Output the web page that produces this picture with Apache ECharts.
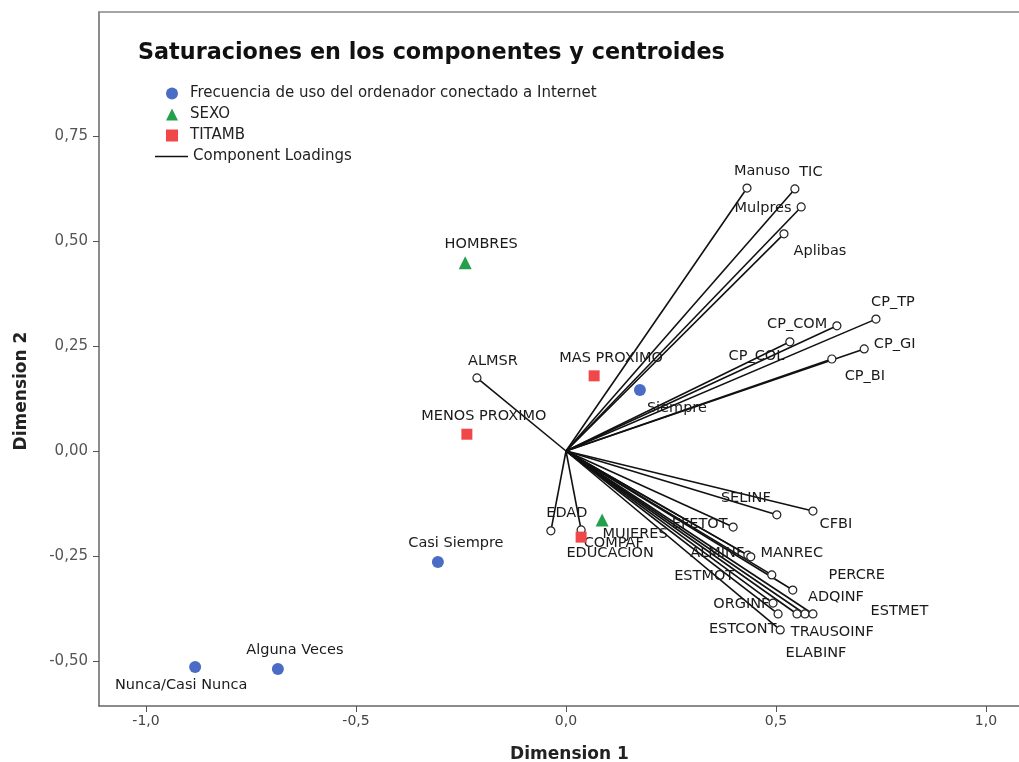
<!DOCTYPE html>
<html>
<head>
<meta charset="utf-8">
<script src="https://cdn.jsdelivr.net/npm/echarts@6/dist/echarts.min.js"></script>
<style>
  html, body { margin: 0; padding: 0; background: #fff; }
  #chart { width: 1019px; height: 762px; }
</style>
</head>
<body>
<div id="chart"></div>
<script>
// Saturaciones en los componentes (component loadings)
var loadingNames = ['Manuso', 'TIC', 'Mulpres', 'Aplibas', 'CP_TP', 'CP_COM', 'CP_COL', 'CP_GI', 'CP_BI',
  'ALMSR', 'SELINF', 'CFBI', 'EDAD', 'COMPAF', 'EFETOT', 'ALMINF', 'MANREC', 'ESTMOT', 'PERCRE',
  'ORGINF', 'ADQINF', 'ELABINF', 'ESTMET', 'ESTCONT', 'TRAUSOINF'];
var loadingDim1 = [0.431, 0.545, 0.560, 0.519, 0.738, 0.645, 0.533, 0.710, 0.633,
  -0.212, 0.502, 0.588, -0.036, 0.036, 0.398, 0.433, 0.440, 0.490, 0.540,
  0.493, 0.569, 0.550, 0.588, 0.505, 0.510];
var loadingDim2 = [0.626, 0.624, 0.581, 0.517, 0.314, 0.298, 0.260, 0.243, 0.219,
  0.174, -0.152, -0.143, -0.190, -0.188, -0.181, -0.248, -0.252, -0.295, -0.331,
  -0.362, -0.388, -0.388, -0.388, -0.388, -0.426];

// centroides
var frecNames = ['Siempre', 'Casi Siempre', 'Alguna Veces', 'Nunca/Casi Nunca'];
var frecDim1 = [0.176, -0.305, -0.686, -0.883];
var frecDim2 = [0.145, -0.264, -0.519, -0.514];

var sexoNames = ['HOMBRES', 'MUJERES'];
var sexoDim1 = [-0.240, 0.086];
var sexoDim2 = [0.448, -0.164];

var titambNames = ['MAS PROXIMO', 'MENOS PROXIMO', 'EDUCACION'];
var titambDim1 = [0.067, -0.236, 0.036];
var titambDim2 = [0.179, 0.040, -0.205];

var xTicks = [-1.0, -0.5, 0.0, 0.5, 1.0];
var yTicks = [-0.50, -0.25, 0.00, 0.25, 0.50, 0.75];

// donde va cada etiqueta (posicion, desplazamiento)
var loadingLabelPos = [
  ['top', [15, 0]], ['top', [16, 0]], ['left', [0, 1]], ['bottom', [36, 0]], ['top', [17, 0]],
  ['left', [0, -2]], ['left', [4, 14]], ['right', [0, -5]], ['bottom', [33, 0]],
  ['top', [16, 0]], ['top', [-31, 0]], ['bottom', [23, -4]], ['top', [16, 0]], ['right', [-7, 13]],
  ['left', [4, -3]], ['left', [6, -2]], ['right', [0, -4]], ['left', [-28, 1]], ['right', [26, -15]],
  ['left', [6, 1]], ['top', [31, 0]], ['bottom', [19, 22]], ['right', [48, -3]], ['left', [8, 15]],
  ['right', [1, 2]]
];
var frecLabelPos = [['bottom', [37, 0]], ['top', [18, 0]], ['top', [17, 0]], ['bottom', [-14, 0]]];
var sexoLabelPos = [['top', [16, 0]], ['bottom', [33, -5]]];
var titambLabelPos = [['top', [17, 0]], ['top', [17, 0]], ['bottom', [29, -2]]];

var FONT = 'DejaVu Sans';
var X_MIN = -1.1119, X_MAX = 1.1286;

function points(names, d1, d2, pos) {
  return names.map(function (n, i) {
    return {
      name: n,
      value: [d1[i], d2[i]],
      label: { position: pos[i][0], offset: pos[i][1] }
    };
  });
}

function labelStyle() {
  return {
    show: true,
    formatter: '{b}',
    color: '#1a1a1a',
    fontFamily: FONT,
    fontSize: 14.5,
    distance: 5,
    textBorderWidth: 0
  };
}

var chart = echarts.init(document.getElementById('chart'));
var option = {
  animation: false,
  backgroundColor: '#fff',
  title: {
    text: 'Saturaciones en los componentes y centroides',
    left: 138,
    top: 42,
    padding: 0,
    textStyle: { fontFamily: FONT, fontWeight: 'bold', fontSize: 22.3, color: '#111' }
  },
  legend: [
    {
      orient: 'vertical',
      left: 166,
      top: 85,
      padding: 0,
      itemWidth: 12,
      itemHeight: 12,
      itemGap: 4,
      textStyle: { fontFamily: FONT, fontSize: 15, color: '#222', lineHeight: 17, padding: [0, 0, 0, 7] },
      data: [
        { name: 'Frecuencia de uso del ordenador conectado a Internet', icon: 'circle' },
        { name: 'SEXO', icon: 'triangle' },
        { name: 'TITAMB', icon: 'rect' }
      ]
    },
    {
      orient: 'vertical',
      left: 155,
      top: 148,
      padding: 0,
      itemWidth: 33,
      itemHeight: 1.5,
      itemStyle: { borderWidth: 0 },
      textStyle: { fontFamily: FONT, fontSize: 15, color: '#222', lineHeight: 17, padding: [0, 0, 0, 0] },
      data: [{ name: 'Component Loadings', icon: 'rect' }]
    }
  ],
  grid: {
    left: 99,
    right: -21,
    top: 12,
    bottom: 56,
    outerBoundsMode: 'none',
    containLabel: false,
    show: false
  },
  xAxis: [
    {
      type: 'value',
      min: X_MIN,
      max: X_MAX,
      name: 'Dimension 1',
      nameLocation: 'middle',
      nameGap: 40,
      nameTextStyle: { fontFamily: FONT, fontWeight: 'bold', fontSize: 17, color: '#222' },
      axisLine: { onZero: false, lineStyle: { color: '#666', width: 1.5 } },
      axisTick: { show: true, length: 6, lineStyle: { color: '#555' }, customValues: xTicks },
      axisLabel: {
        customValues: xTicks,
        fontFamily: FONT, fontSize: 14, color: '#444', margin: 8,
        formatter: function (v) { return v.toFixed(1).replace('.', ','); }
      },
      splitLine: { show: false }
    },
    {
      // borde superior del marco
      type: 'value',
      position: 'top',
      min: X_MIN,
      max: X_MAX,
      axisLine: { show: true, onZero: false, lineStyle: { color: '#888', width: 1.5 } },
      axisTick: { show: false },
      axisLabel: { show: false },
      splitLine: { show: false }
    }
  ],
  yAxis: {
    type: 'value',
    min: -0.6071,
    max: 1.0452,
    axisLine: { show: true, onZero: false, lineStyle: { color: '#666', width: 1.5 } },
    axisTick: { show: true, length: 6, lineStyle: { color: '#555' }, customValues: yTicks },
    axisLabel: {
      customValues: yTicks,
      fontFamily: FONT, fontSize: 15, color: '#555', margin: 11,
      formatter: function (v) { return v.toFixed(2).replace('.', ','); }
    },
    splitLine: { show: false }
  },
  graphic: [
    {
      type: 'text',
      x: 22,
      y: 391,
      rotation: Math.PI / 2,
      style: {
        text: 'Dimension 2',
        fontFamily: FONT, fontWeight: 'bold', fontSize: 17, fill: '#222',
        align: 'center', verticalAlign: 'middle'
      }
    }
  ],
  series: [
    {
      name: 'Component Loadings',
      type: 'lines',
      coordinateSystem: 'cartesian2d',
      polyline: false,
      silent: true,
      lineStyle: { color: '#111', width: 1.6, opacity: 1 },
      data: loadingNames.map(function (n, i) {
        return { coords: [[0, 0], [loadingDim1[i], loadingDim2[i]]] };
      }),
      z: 2
    },
    {
      name: 'loadings',
      type: 'scatter',
      symbol: 'circle',
      symbolSize: 8,
      itemStyle: { color: '#fff', borderColor: '#222', borderWidth: 1.2, opacity: 1 },
      label: labelStyle(),
      data: points(loadingNames, loadingDim1, loadingDim2, loadingLabelPos),
      z: 3
    },
    {
      name: 'Frecuencia de uso del ordenador conectado a Internet',
      type: 'scatter',
      symbol: 'circle',
      symbolSize: 12,
      itemStyle: { color: '#4a6cc4', opacity: 1 },
      label: labelStyle(),
      data: points(frecNames, frecDim1, frecDim2, frecLabelPos),
      z: 4
    },
    {
      name: 'SEXO',
      type: 'scatter',
      symbol: 'triangle',
      symbolSize: 13,
      itemStyle: { color: '#24a04c', opacity: 1 },
      label: labelStyle(),
      data: points(sexoNames, sexoDim1, sexoDim2, sexoLabelPos),
      z: 4
    },
    {
      name: 'TITAMB',
      type: 'scatter',
      symbol: 'rect',
      symbolSize: 11,
      itemStyle: { color: '#f04848', opacity: 1 },
      label: labelStyle(),
      data: points(titambNames, titambDim1, titambDim2, titambLabelPos),
      z: 4
    }
  ]
};
chart.setOption(option, true);
</script>
</body>
</html>
